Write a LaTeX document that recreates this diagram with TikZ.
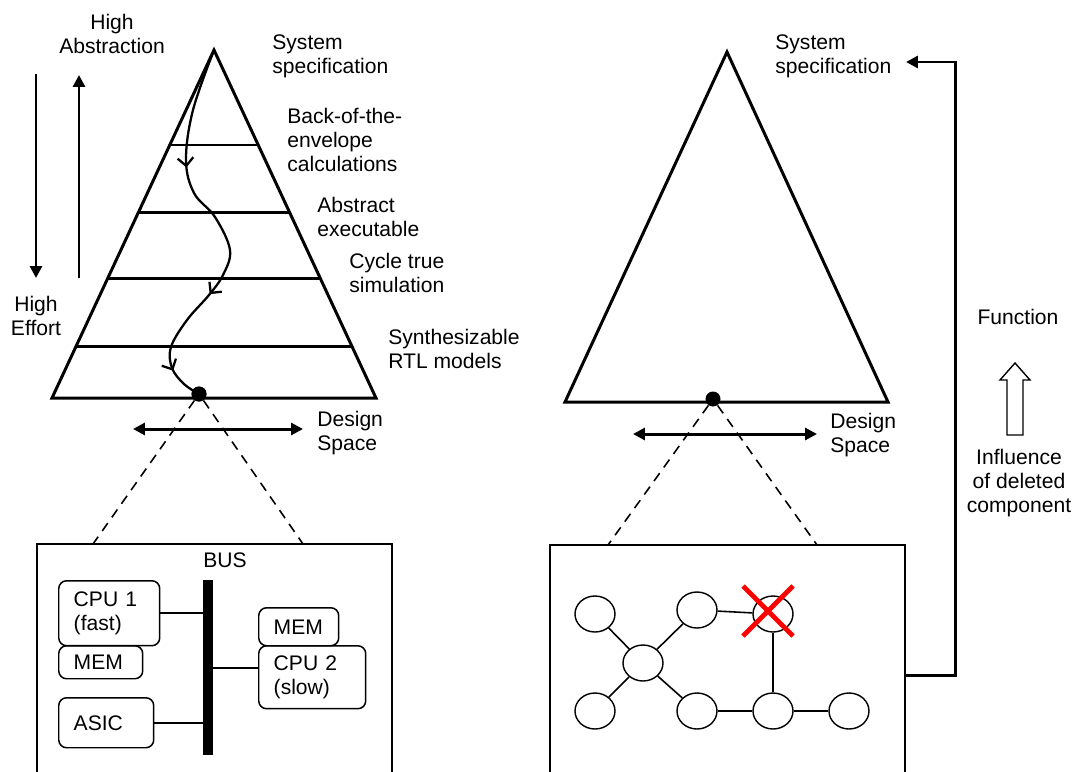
\documentclass[tikz,border=0pt]{standalone}
\usepackage{fontspec}
\setmainfont{Liberation Sans}
\usetikzlibrary{arrows.meta,positioning,calc,shapes.geometric,decorations.markings}
\tikzset{
  >={Triangle[length=6.8pt,width=6.8pt]}, % filled heads
  txt/.style={inner sep=0pt, align=left, anchor=west, font=\fontsize{12}{13.6}\selectfont},
  ctxt/.style={txt, align=center, anchor=center},
  unit/.style={draw, line width=0.85pt, rounded corners=4.5pt, anchor=north west, align=left,
    inner xsep=0.3cm, inner ysep=0pt, font=\fontsize{12}{13.6}\selectfont},
  gnode/.style={draw, ellipse, line width=0.8pt, minimum width=0.8cm, minimum height=0.72cm, inner sep=0pt},
  dot/.style={circle, fill, inner sep=0pt, minimum size=0.3cm},
  frame/.style={draw, line width=0.9pt, minimum width=7.1cm, minimum height=5.2cm, inner sep=0pt},
  edge/.style={line width=1.7pt},
  arrow/.style={->, line width=1.7pt},
  twoway/.style={<->, line width=1.7pt},
  zoomline/.style={line width=0.9pt, dash pattern=on 5.5pt off 4pt},
  link/.style={line width=0.9pt},
  cross/.style={red, line width=2.8pt},
  flow/.style={line width=1.3pt, postaction={decorate}, decoration={markings,
    mark=at position 0.31 with {\arrow{Straight Barb[length=4.5pt,width=9pt]}},
    mark=at position 0.68 with {\arrow{Straight Barb[length=4.5pt,width=9pt]}},
    mark=at position 0.91 with {\arrow{Straight Barb[length=4.5pt,width=9pt]}}}}
}

\begin{document}
\begin{tikzpicture}[x=0.02cm, y=-0.02cm]
\useasboundingbox (0,0) rectangle (1075,771);
\clip (0,0) rectangle (1075,771);

% left pyramid
\coordinate (lapex) at (214,50);
\coordinate (lbl) at (52,398);
\coordinate (lbr) at (376,398);
\draw[edge] (lapex) -- (lbr) -- (lbl) -- cycle;
\foreach \t in {0.273,0.466,0.658,0.853}
  \draw[edge] ($(lapex)!\t!(lbl)$) -- ($(lapex)!\t!(lbr)$);

\node[dot] (ldot) at (199,394) {};
\draw[flow] plot[smooth, tension=0.6] coordinates {(lapex) (193,110) (186,160) (194,193) (215,217)
  (230,250) (223,275) (209,295) (187,320) (171,347) (172,368) (184,384) (ldot)};
\node[dot] at (ldot) {};

% abstraction / effort
\node[ctxt] (habs) at (112,34) {High\\Abstraction};
\node[ctxt] (heff) at (36,316) {High\\Effort};
\coordinate (ef1) at (36,74);
\coordinate (ef2) at (36,278);
\coordinate (ab1) at (79,278);
\coordinate (ab2) at (79,75);
\draw[arrow] (ef1) -- (ef2);
\draw[arrow] (ab1) -- (ab2);

% level labels
\node[txt] (lsys) at (272,56) {System\\specification};
\node[txt] (lback) at (287,140) {Back-of-the-\\envelope\\calculations};
\node[txt] (labs) at (317,217) {Abstract\\executable};
\node[txt] (lcyc) at (349,273) {Cycle true\\simulation};
\node[txt] (lrtl) at (388,349) {Synthesizable\\RTL models};

% left design space
\coordinate (lds1) at (133,429);
\coordinate (lds2) at (303,429);
\draw[twoway] (lds1) -- (lds2);
\node[txt] (ldes) at (317,433) {Design\\Space};

% left architecture box
\node[frame] (lbox) at (214.5,674) {};
\coordinate (lz1) at (93,544);
\coordinate (lz2) at (303,544);
\draw[zoomline] (ldot) -- (lz1);
\draw[zoomline] (ldot) -- (lz2);

\node[ctxt] (buslbl) at (225,560) {BUS};
\node[fill, minimum width=0.2cm, minimum height=3.5cm, inner sep=0pt] (bus) at (208,667.5) {};
\node[unit, text width=1.42cm, minimum height=1.3cm] (cpu1) at (58,580) {CPU 1\\(fast)};
\node[unit, text width=1.08cm, minimum height=0.66cm] (mem1) at (58,645) {MEM};
\node[unit, text width=1.3cm, minimum height=1.0cm] (asic) at (58,697) {ASIC};
\node[unit, text width=1.0cm, minimum height=0.76cm] (mem2) at (258,607) {MEM};
\node[unit, text width=1.54cm, minimum height=1.26cm] (cpu2) at (258,645) {CPU 2\\(slow)};

\coordinate (c2in) at ($(cpu2.west)+(0,-9.5)$);
\draw[link] (cpu1.east) -- (cpu1.east -| bus.west);
\draw[link] (asic.east) -- (asic.east -| bus.west);
\draw[link] (bus.east |- c2in) -- (c2in);

% right pyramid
\coordinate (rapex) at (727,52);
\coordinate (rbl) at (565,402);
\coordinate (rbr) at (888,402);
\draw[edge] (rapex) -- (rbr) -- (rbl) -- cycle;
\node[dot] (rdot) at (713,399) {};

\coordinate (rds1) at (633,434);
\coordinate (rds2) at (817,434);
\draw[twoway] (rds1) -- (rds2);
\node[txt] (rdes) at (830,435) {Design\\Space};
\node[txt] (rsys) at (775,56) {System\\specification};

% right component graph
\node[frame] (rbox) at (727.5,675) {};
\coordinate (rz1) at (608,545);
\coordinate (rz2) at (817,545);
\draw[zoomline] (rdot) -- (rz1);
\draw[zoomline] (rdot) -- (rz2);

\node[gnode] (g1) at (595,614) {};
\node[gnode] (g2) at (697,610) {};
\node[gnode] (g3) at (773,614) {};
\node[gnode] (g4) at (643,663) {};
\node[gnode] (g5) at (595,711) {};
\node[gnode] (g6) at (697,711) {};
\node[gnode] (g7) at (773,711) {};
\node[gnode] (g8) at (849,711) {};
\foreach \a/\b in {g1/g4, g2/g4, g5/g4, g6/g4, g2/g3, g3/g7, g6/g7, g7/g8}
  \draw[link] (\a) -- (\b);
\draw[cross] ($(g3)+(-30,-28)$) -- ($(g3)+(20,22)$);
\draw[cross] ($(g3)+(20,-28)$) -- ($(g3)+(-30,22)$);

% feedback to specification
\coordinate (turn) at (955,675);
\coordinate (tip) at (906,62);
\draw[arrow] (rbox.east) -- (turn) |- (tip);

\node[ctxt] (func) at (1018,317) {Function};
\draw[line width=0.8pt] (1007,435) -- (1007,380) -- (1000,380) -- (1015,363) -- (1030,380)
  -- (1023,380) -- (1023,435) -- cycle;
\node[ctxt] (infl) at (1019,483) {Influence\\of deleted\\component};
\end{tikzpicture}
\end{document}
